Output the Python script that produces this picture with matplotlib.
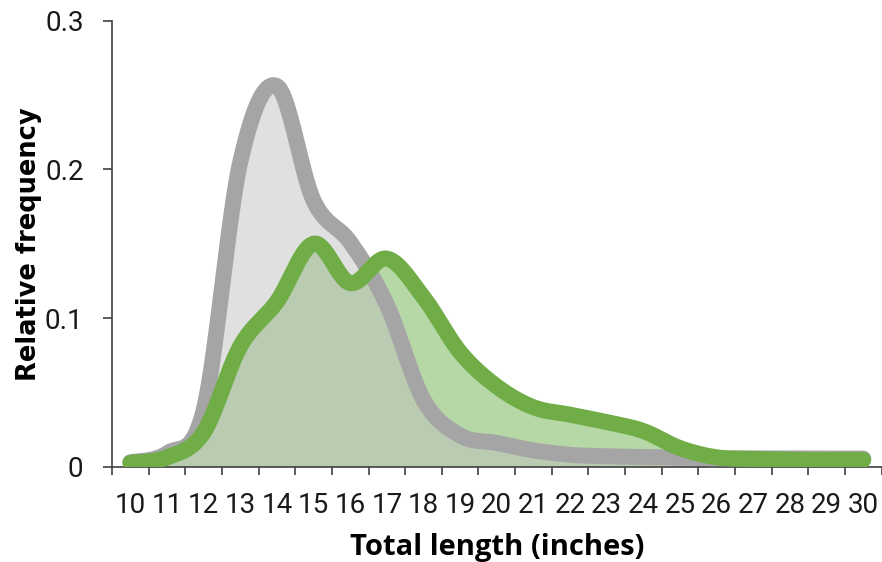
import numpy as np
import matplotlib.pyplot as plt

# total length (inches), one category per inch
lengths = list(range(10, 31))
gray_freq = [0.003, 0.009, 0.038, 0.205, 0.256, 0.179, 0.151, 0.109, 0.045, 0.021,
             0.016, 0.011, 0.008, 0.007, 0.0065, 0.006, 0.0057, 0.0056, 0.0055, 0.0055, 0.0055]
green_freq = [0.0025, 0.0062, 0.023, 0.081, 0.111, 0.150, 0.1235, 0.140, 0.114, 0.077,
              0.054, 0.040, 0.035, 0.030, 0.024, 0.0125, 0.0063, 0.0052, 0.0047, 0.0045, 0.0045]
y_ticks = [0, 0.1, 0.2, 0.3]
y_labels = ['0', '0.1', '0.2', '0.3']


def smooth(x, y, n=40):
    # Excel style smoothed line: cubic bezier with catmull-rom control points
    x = np.asarray(x, float)
    y = np.asarray(y, float)
    px = np.concatenate([[x[0]], x, [x[-1]]])
    py = np.concatenate([[y[0]], y, [y[-1]]])
    t = np.linspace(0, 1, n, endpoint=False)[:, None]
    out = []
    for i in range(len(x) - 1):
        p0 = np.array([px[i], py[i]])
        p1 = np.array([px[i + 1], py[i + 1]])
        p2 = np.array([px[i + 2], py[i + 2]])
        p3 = np.array([px[i + 3], py[i + 3]])
        c1 = p1 + (p2 - p0) / 6
        c2 = p2 - (p3 - p1) / 6
        seg = ((1 - t) ** 3) * p1 + 3 * ((1 - t) ** 2) * t * c1 + 3 * (1 - t) * t ** 2 * c2 + t ** 3 * p2
        out.append(seg)
    out.append(np.array([[x[-1], y[-1]]]))
    pts = np.vstack(out)
    return pts[:, 0], pts[:, 1]


fig = plt.figure(figsize=(8.82, 5.62), dpi=100)
ax = fig.add_axes([112 / 882, 95.3 / 562, 769.6 / 882, 446 / 562])

gx, gy = smooth(lengths, gray_freq)
hx, hy = smooth(lengths, green_freq)

ax.fill_between(hx, 0, hy, color='#b6d7a6', lw=0, zorder=1)
ax.fill_between(gx, 0, gy, color='#bebebe', alpha=0.47, lw=0, zorder=2)
ax.plot(gx, gy, color='#a5a5a5', lw=11.5, solid_capstyle='round', solid_joinstyle='round', zorder=3)
ax.plot(hx, hy, color='#70ad47', lw=11.5, solid_capstyle='round', solid_joinstyle='round', zorder=4)

ax.set_xlim(9.5, 30.5)
ax.set_ylim(0, 0.3)

ax.set_xticks(np.arange(9.5, 31, 1))
ax.set_xticklabels([])
ax.set_xticks(lengths, minor=True)
ax.set_xticklabels([str(v) for v in lengths], minor=True, fontfamily='Roboto', fontsize=20, color='#1a1a1a')
ax.tick_params(axis='x', which='major', length=6, width=1.2, color='#404040')
ax.tick_params(axis='x', which='minor', length=0, pad=18)

ax.set_yticks(y_ticks)
ax.set_yticklabels(y_labels, fontfamily='Roboto', fontsize=20, color='#1a1a1a')
ax.tick_params(axis='y', length=6.5, width=1.2, color='#404040', pad=14)

for side in ['top', 'right']:
    ax.spines[side].set_visible(False)
for side in ['left', 'bottom']:
    ax.spines[side].set_color('#404040')
    ax.spines[side].set_linewidth(1.2)

fig.text(497.5 / 882, 7 / 562, 'Total length (inches)', ha='center', va='baseline',
         fontfamily='Open Sans', fontweight='bold', fontsize=21)
fig.text(29 / 882, 1 - 243.7 / 562, 'Relative frequency', rotation=90, ha='center', va='center',
         fontfamily='DejaVu Sans', fontweight='bold', fontsize=18.5)

fig.savefig('out.png', dpi=100)
